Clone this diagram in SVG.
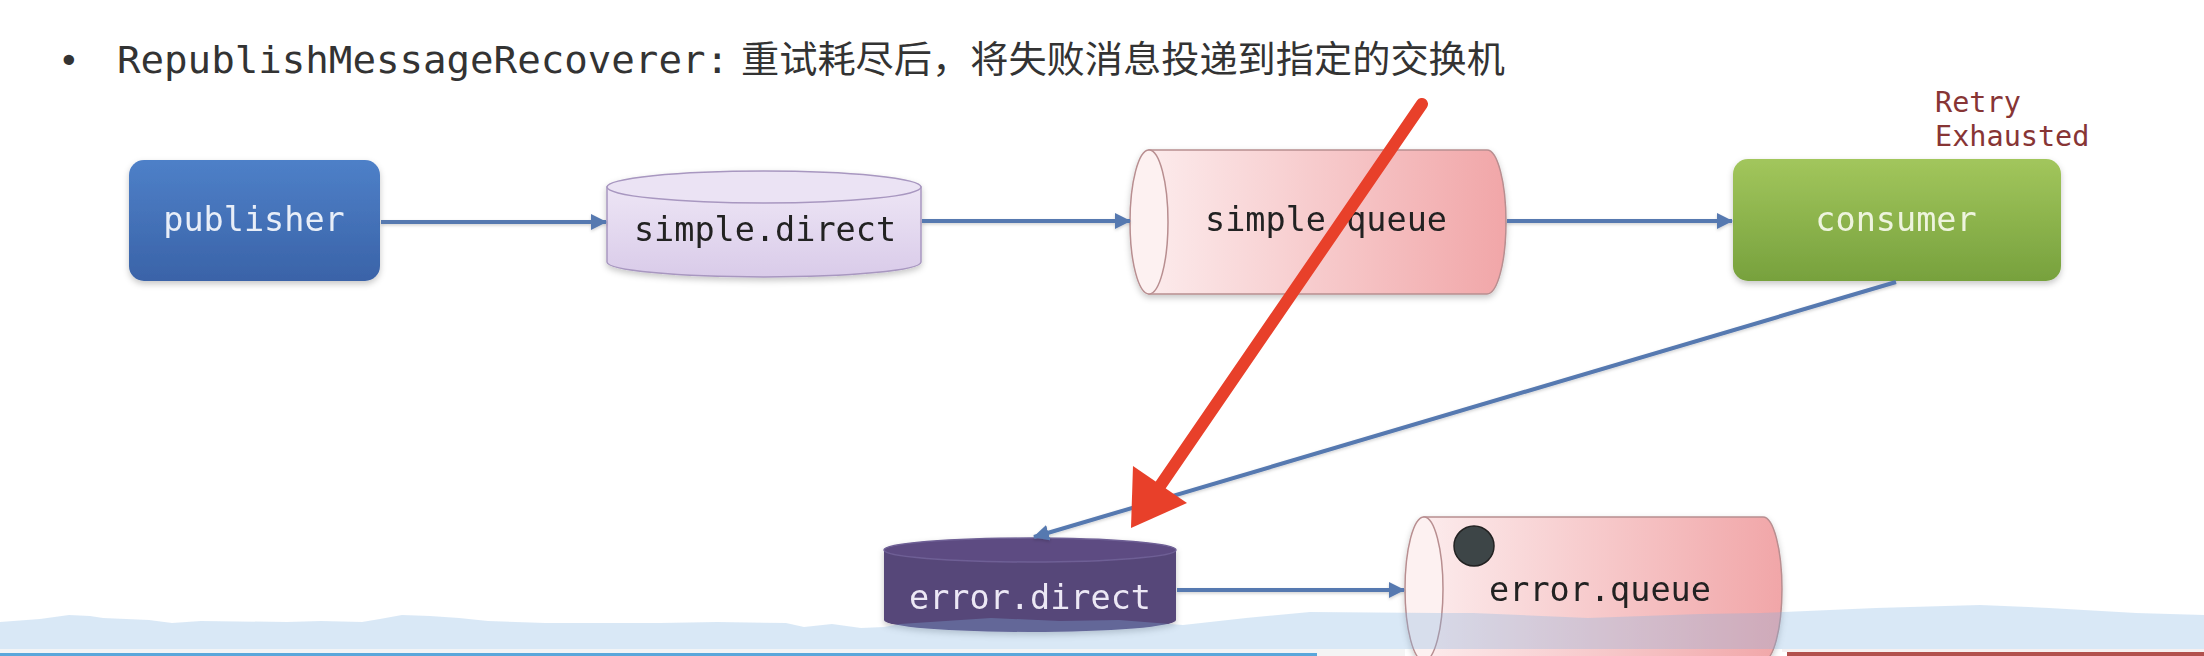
<svg xmlns="http://www.w3.org/2000/svg" width="2204" height="656" viewBox="0 0 2204 656">
  <style>
    .mono { font-family: "DejaVu Sans Mono", "Liberation Mono", monospace; }
    .lbl { font-size: 33.5px; text-anchor: middle; }
    .dark { fill: #222222; }
    .conn { stroke: #5679b0; stroke-width: 4; fill: none; marker-end: url(#arr); }
    .qstroke { stroke: #b88e90; stroke-width: 1.5; }
  </style>
  <defs>
    <marker id="arr" markerUnits="userSpaceOnUse" markerWidth="16" markerHeight="16" refX="15" refY="8" orient="auto">
      <path d="M0,0 L16,8 L0,16 Z" fill="#5679b0"/>
    </marker>
    <linearGradient id="gPub" x1="0" y1="0" x2="0" y2="1">
      <stop offset="0" stop-color="#4e80c8"/>
      <stop offset="1" stop-color="#3a63a8"/>
    </linearGradient>
    <linearGradient id="gCons" x1="0" y1="0" x2="0" y2="1">
      <stop offset="0" stop-color="#a2c65c"/>
      <stop offset="1" stop-color="#77a13d"/>
    </linearGradient>
    <linearGradient id="gSd" x1="0" y1="0" x2="0" y2="1">
      <stop offset="0" stop-color="#ede5f5"/>
      <stop offset="1" stop-color="#d9cbe9"/>
    </linearGradient>
    <linearGradient id="gQ" x1="0" y1="0" x2="1" y2="0">
      <stop offset="0" stop-color="#fcebec"/>
      <stop offset="1" stop-color="#f1a6a8"/>
    </linearGradient>
    <filter id="sh" x="-10%" y="-10%" width="120%" height="130%">
      <feDropShadow dx="0" dy="3" stdDeviation="3" flood-color="#000" flood-opacity="0.22"/>
    </filter>
    <filter id="lsh" x="-5%" y="-50%" width="110%" height="200%">
      <feDropShadow dx="0" dy="1.5" stdDeviation="1.5" flood-color="#000" flood-opacity="0.18"/>
    </filter>
  </defs>

  <rect width="2204" height="656" fill="#ffffff"/>

  <!-- heading -->
  <g id="heading">
    <text x="58" y="73" class="mono" font-size="36" fill="#333333">•</text>
    <text x="117" y="73" class="mono" font-size="38" fill="#333333" textLength="612" lengthAdjust="spacingAndGlyphs">RepublishMessageRecoverer:</text>
    <text x="741" y="73" font-family="'Noto Sans CJK SC', sans-serif" font-size="37" fill="#333333" textLength="764" lengthAdjust="spacingAndGlyphs">重试耗尽后，将失败消息投递到指定的交换机</text>
  </g>

  <!-- nodes -->
  <g id="publisher" filter="url(#sh)">
    <rect x="129" y="160" width="251" height="121" rx="15" fill="url(#gPub)"/>
    <text x="254" y="231" class="mono lbl" fill="#e8eef8">publisher</text>
  </g>

  <g id="simple-direct" filter="url(#sh)">
    <path d="M607,187 L607,262 A157,15 0 0 0 921,262 L921,187 Z" fill="url(#gSd)" stroke="#a897c0" stroke-width="1.5"/>
    <ellipse cx="764" cy="187" rx="157" ry="16" fill="#ebe3f4" stroke="#a897c0" stroke-width="1.5"/>
    <text x="765" y="241" class="mono lbl dark">simple.direct</text>
  </g>

  <g id="simple-queue" filter="url(#sh)">
    <path d="M1149,150 L1487,150 A19,72 0 0 1 1487,294 L1149,294 Z" fill="url(#gQ)" class="qstroke"/>
    <ellipse cx="1149" cy="222" rx="19" ry="72" fill="#fdf1f1" class="qstroke"/>
    <text x="1326" y="231" class="mono lbl dark">simple.queue</text>
  </g>

  <g id="consumer" filter="url(#sh)">
    <rect x="1733" y="159" width="328" height="122" rx="15" fill="url(#gCons)"/>
    <text x="1896" y="231" class="mono lbl" fill="#eef4de">consumer</text>
  </g>

  <g id="retry-label">
    <text x="1935" y="112" class="mono" font-size="28.5" fill="#873535">Retry</text>
    <text x="1935" y="146" class="mono" font-size="28.5" fill="#873535">Exhausted</text>
  </g>

  <g id="error-direct" filter="url(#sh)">
    <path d="M884,550 L884,620 A146,12 0 0 0 1176,620 L1176,550 Z" fill="#574679"/>
    <ellipse cx="1030" cy="550" rx="146" ry="12" fill="#5d4c82" stroke="#6e5f95" stroke-width="1.5"/>
    <text x="1030" y="609" class="mono lbl" fill="#ece8f5">error.direct</text>
  </g>

  <g id="error-queue" filter="url(#sh)">
    <path d="M1424,517 L1763,517 A19,72 0 0 1 1763,661 L1424,661 Z" fill="url(#gQ)" class="qstroke"/>
    <ellipse cx="1424" cy="589" rx="19" ry="72" fill="#fdf1f1" class="qstroke"/>
    <circle cx="1474" cy="546" r="20" fill="#3e4547" stroke="#222" stroke-width="1.5"/>
    <text x="1600" y="601" class="mono lbl dark">error.queue</text>
  </g>

  <!-- connectors -->
  <g id="connectors" filter="url(#lsh)">
    <line x1="381" y1="222" x2="606" y2="222" class="conn"/>
    <line x1="922" y1="221" x2="1130" y2="221" class="conn"/>
    <line x1="1507" y1="221" x2="1732" y2="221" class="conn"/>
    <line x1="1896" y1="282" x2="1034" y2="537" class="conn"/>
    <line x1="1177" y1="590" x2="1404" y2="590" class="conn"/>
  </g>

  <!-- red annotation arrow -->
  <g id="red-arrow">
    <line x1="1422" y1="104" x2="1160" y2="486" stroke="#e8402a" stroke-width="12" stroke-linecap="round"/>
    <polygon points="1131,528 1133,466 1187,503" fill="#e8402a"/>
  </g>

  <!-- bottom overlay band -->
  <g id="overlay">
    <path d="M0,622 L40,619 L69,615 L90,616 L103,618 L149,620 L172,623 L201,621 L287,622 L321,621 L362,622 L380,619 L402,615 L430,616 L459,618 L488,621 L545,623 L660,623 L717,622 L786,623 L804,627 L832,624 L861,628 L884,627 L900,624 L991,618 L1060,621 L1119,620 L1183,625 L1246,618 L1310,612 L1438,613 L1473,613 L1565,617 L1588,618 L1700,614 L1761,613 L1876,608 L1980,605 L2049,608 L2136,613 L2204,615 L2204,649 L0,649 Z" fill="#82b4e1" fill-opacity="0.3"/>
    <rect x="0" y="649" width="1317" height="4" fill="#f2f4f6"/>
    <rect x="0" y="653" width="1317" height="3" fill="#5aa7db"/>
    <rect x="1317" y="649" width="88" height="7" fill="#f4f4f4"/>
    <rect x="1782" y="649" width="422" height="3" fill="#f6f0f0"/>
    <rect x="1787" y="652" width="417" height="4" fill="#b2514d"/>
  </g>
</svg>
